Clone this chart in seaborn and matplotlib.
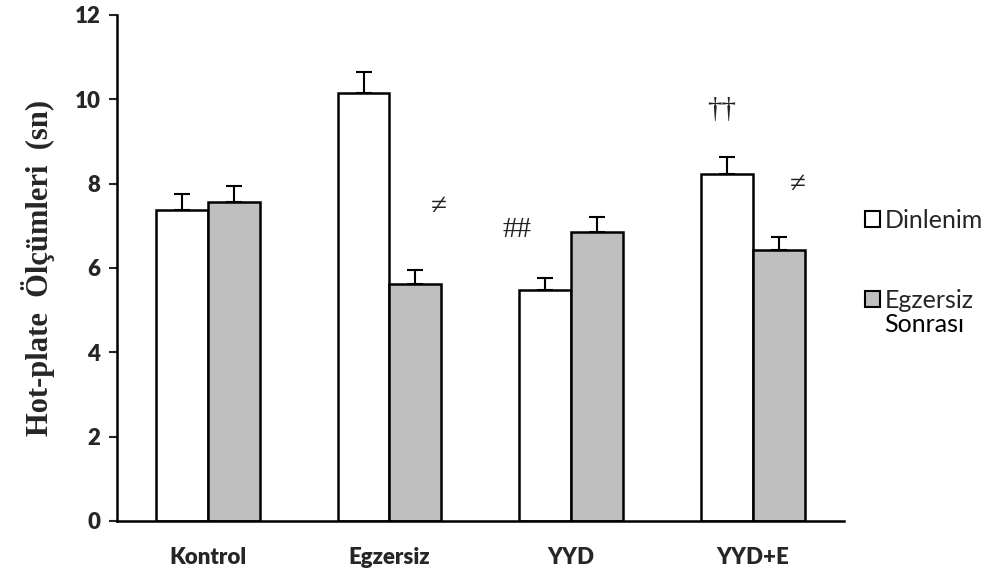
import matplotlib
matplotlib.use("Agg")
import matplotlib.pyplot as plt
from matplotlib.patches import Patch
import numpy as np
import pandas as pd
import seaborn as sns

groups = ["Kontrol", "Egzersiz", "YYD", "YYD+E"]
conditions = ["Dinlenim", "Egzersiz Sonrası"]
rest_mean = [7.37, 10.14, 5.47, 8.22]
rest_err = [0.38, 0.50, 0.29, 0.42]
post_mean = [7.56, 5.62, 6.85, 6.42]
post_err = [0.38, 0.32, 0.35, 0.31]
y_ticks = [0, 2, 4, 6, 8, 10, 12]
marks = [("≠", 1.27, 7.44), ("##", 1.70, 6.90), ("††", 2.83, 9.74), ("≠", 3.25, 7.96)]

df = pd.DataFrame({
    "grup": groups * 2,
    "durum": [conditions[0]] * 4 + [conditions[1]] * 4,
    "deger": rest_mean + post_mean,
})

sns.set_theme(style="white")
plt.rcParams["font.family"] = ["DejaVu Sans"]
SANS = "Lato"

fig = plt.figure(figsize=(9.96, 5.75), dpi=100)
ax = fig.add_axes([0.1175, 0.094, 0.7295, 0.880])

palette = {conditions[0]: "#FFFFFF", conditions[1]: "#BFBFBF"}
sns.barplot(data=df, x="grup", y="deger", hue="durum", order=groups,
            hue_order=conditions, palette=palette, width=0.57, gap=0,
            errorbar=None, edgecolor="black", linewidth=1.8, legend=False, ax=ax)

# upward-only error bars on each bar
for container, errs in zip(ax.containers, [rest_err, post_err]):
    for bar, e in zip(container, errs):
        xc = bar.get_x() + bar.get_width() / 2
        h = bar.get_height()
        ax.errorbar(xc, h, yerr=[[0], [e]], fmt="none", ecolor="black",
                    elinewidth=1.5, capsize=6, capthick=1.5, zorder=3)

for txt, xx, yy in marks:
    ax.text(xx, yy, txt, ha="center", va="center", fontsize=21,
            family="Liberation Serif", color="#222222")

ax.set_xlim(-0.5, 3.5)
ax.set_ylim(0, 12)
ax.set_yticks(y_ticks)
ax.set_yticklabels([str(t) for t in y_ticks], fontsize=16, fontweight="heavy",
                   family=SANS)
ax.set_xticks(range(len(groups)))
ax.set_xticklabels(groups, fontsize=16, fontweight="heavy", family=SANS)
ax.tick_params(axis="x", length=0, pad=19)
ax.tick_params(axis="y", direction="out", length=6, width=1.5, left=True, pad=6)
ax.set_xlabel("")
ax.set_ylabel("Hot-plate  Ölçümleri  (sn)", fontsize=22, fontweight="bold",
              family="Liberation Serif", labelpad=14)

for side in ["top", "right"]:
    ax.spines[side].set_visible(False)
for side in ["left", "bottom"]:
    ax.spines[side].set_color("black")
    ax.spines[side].set_linewidth(1.8)

# legend: handle sits beside the first line of each label
first_lines = ["Dinlenim", "Egzersiz"]
handles = [Patch(facecolor=palette[c], edgecolor="black", linewidth=1.5, label=t)
           for c, t in zip(conditions, first_lines)]
leg = fig.legend(handles=handles, loc="upper left", bbox_to_anchor=(0.868, 0.637),
                 frameon=False, handlelength=0.6, handleheight=0.6,
                 handletextpad=0.22, labelspacing=2.3, borderpad=0,
                 borderaxespad=0, prop={"family": SANS, "size": 18})
fig.text(0.8875, 0.435, "Sonrası", ha="left", va="center", family=SANS,
         fontsize=18, color="black")

fig.savefig("out.png", dpi=100, facecolor="white")
